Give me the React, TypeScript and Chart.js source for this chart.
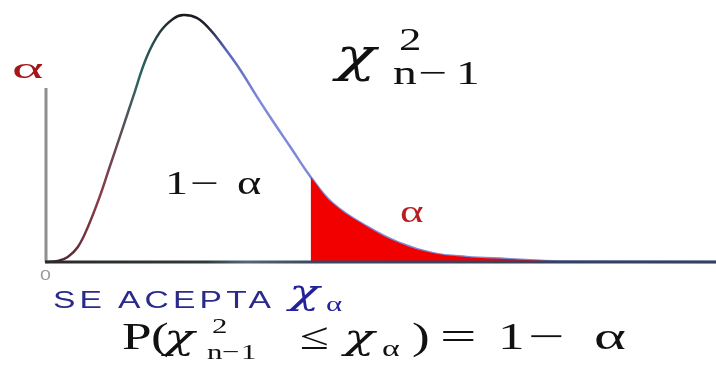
import React, { useEffect, useRef } from "react";
import { Chart, registerables } from "chart.js";

Chart.register(...registerables);

// chi-square values along the horizontal axis and the density
const chiValues = [0, 0.7, 1.3, 1.9, 2.5, 3.2, 3.8, 4.6, 5.2, 6.0, 6.8, 7.6, 8.2, 9.0, 9.8, 10.6, 11.6, 12.6, 13.6, 14.6, 15.8, 17.1, 19.2, 21.1, 23.1, 25.1, 27.5, 30.7, 40];
const densityValues = [0, 0.0004, 0.002, 0.0059, 0.0138, 0.0256, 0.0374, 0.0531, 0.065, 0.0805, 0.0905, 0.0958, 0.0972, 0.0961, 0.0915, 0.0848, 0.0756, 0.065, 0.0549, 0.0452, 0.0335, 0.0232, 0.0138, 0.0075, 0.0035, 0.002, 0.0012, 0.0002, 0];
const criticalValue = 15.8; // chi_alpha, start of the rejected tail
const xRange = [0, 40];
const yRange = [0, 0.1];
const yAxisTop = 0.0685;

const SERIF = '"Liberation Serif", "Times New Roman", serif';
const MATH = '"DejaVu Serif", serif';
const SANS = '"Liberation Sans", Arial, sans-serif';

type PieceProps = {
  x: number;
  base: number;
  size: number;
  text: string;
  family?: string;
  color?: string;
  sx?: number;
  italic?: boolean;
  ls?: number;
};

function Piece({ x, base, size, text, family = SERIF, color = "#111", sx = 1.4, italic = false, ls = 0 }: PieceProps) {
  const k = family === SANS ? 0.8465 : family === MATH ? 0.846 : 0.8375;
  return (
    <span
      style={{
        position: "absolute",
        left: x,
        top: base - k * size,
        fontSize: size,
        lineHeight: `${size}px`,
        fontFamily: family,
        color,
        whiteSpace: "pre",
        transform: `scaleX(${sx})`,
        transformOrigin: "0 0",
        fontStyle: italic ? "italic" : "normal",
        letterSpacing: ls,
      }}
    >
      {text}
    </span>
  );
}

const axesPlugin = {
  id: "axesLines",
  beforeDatasetsDraw(chart: any) {
    const { ctx, scales } = chart;
    const x0 = scales.x.getPixelForValue(0);
    ctx.save();
    ctx.lineWidth = 3;
    ctx.strokeStyle = "#8e8e8e";
    ctx.beginPath();
    ctx.moveTo(x0, scales.y.getPixelForValue(yAxisTop));
    ctx.lineTo(x0, scales.y.getPixelForValue(0));
    ctx.stroke();
    ctx.restore();
  },
  afterDatasetsDraw(chart: any) {
    const { ctx, scales } = chart;
    const y0 = scales.y.getPixelForValue(0);
    const xa = scales.x.getPixelForValue(xRange[0]) - 1;
    const xb = scales.x.getPixelForValue(xRange[1]);
    ctx.save();
    const g = ctx.createLinearGradient(xa, 0, xb, 0);
    g.addColorStop(0, "#2a2a2a");
    g.addColorStop(0.24, "#2e3a3c");
    g.addColorStop(0.3, "#56657a");
    g.addColorStop(0.4, "#3a4660");
    g.addColorStop(1, "#34405c");
    ctx.lineWidth = 3;
    ctx.strokeStyle = g;
    ctx.beginPath();
    ctx.moveTo(xa, y0);
    ctx.lineTo(xb, y0);
    ctx.stroke();
    ctx.restore();
  },
};

function curveGradient(context: any) {
  const chart = context.chart;
  const area = chart.chartArea;
  if (!area) return "#333";
  const g = chart.ctx.createLinearGradient(area.left, 0, area.right, 0);
  g.addColorStop(0, "#3a2424");
  g.addColorStop(0.08, "#8a3a48");
  g.addColorStop(0.14, "#2f6464");
  g.addColorStop(0.2, "#181818");
  g.addColorStop(0.24, "#202030");
  g.addColorStop(0.27, "#5a64b8");
  g.addColorStop(0.32, "#7d8ad8");
  g.addColorStop(1, "#7d8ad8");
  return g;
}

export default function App() {
  const canvasRef = useRef<HTMLCanvasElement | null>(null);

  useEffect(() => {
    if (!canvasRef.current) return;
    const curve = chiValues.map((x, i) => ({ x, y: densityValues[i] }));
    const tail = curve.filter((p) => p.x >= criticalValue && p.x <= 31);
    const chart = new Chart(canvasRef.current, {
      type: "line",
      data: {
        datasets: [
          {
            data: tail,
            borderWidth: 0,
            borderColor: "rgba(0,0,0,0)",
            backgroundColor: "#f20000",
            fill: "origin",
            pointRadius: 0,
            tension: 0.4,
          } as any,
          {
            data: curve,
            borderWidth: 2.5,
            borderColor: curveGradient,
            fill: false,
            pointRadius: 0,
            tension: 0.4,
            clip: false,
          } as any,
        ],
      },
      options: {
        responsive: false,
        animation: false,
        layout: { padding: { left: 46, right: 0, top: 8, bottom: 103 } },
        scales: {
          x: { type: "linear", min: xRange[0], max: xRange[1], display: false },
          y: { min: yRange[0], max: yRange[1], display: false },
        },
        plugins: { legend: { display: false }, tooltip: { enabled: false } },
      },
      plugins: [axesPlugin],
    });
    return () => chart.destroy();
  }, []);

  return (
    <div style={{ position: "fixed", left: 0, top: 0, width: 716, height: 365, background: "#fff", overflow: "hidden" }}>
      <canvas ref={canvasRef} width={716} height={365} style={{ position: "absolute", left: 0, top: 0 }} />
      {/* title */}
      <div>
        <Piece x={336} base={71} size={47} text="χ" family={MATH} italic />
        <Piece x={399} base={50} size={32} text="2" />
        <Piece x={393} base={84} size={34} text="n" />
        <Piece x={418} base={84} size={34} text="−" sx={1.5} />
        <Piece x={456} base={84} size={34} text="1" />
      </div>
      {/* axis labels */}
      <Piece x={12} base={78} size={30} text="α" color="#a51616" sx={2.0} />
      <Piece x={40} base={280} size={14} text="0" family={SANS} color="#9a9a9a" />
      {/* area labels */}
      <div>
        <Piece x={165} base={195} size={33} text="1" />
        <Piece x={190} base={195} size={33} text="−" sx={1.55} />
        <Piece x={237} base={195} size={33} text="α" />
      </div>
      <Piece x={400} base={222} size={32} text="α" color="#b81c1c" />
      {/* acceptance label */}
      <div>
        <Piece x={53} base={308} size={24} text="SE ACEPTA" family={SANS} color="#2a2a8a" ls={3} />
        <Piece x={289} base={304} size={36} text="χ" family={MATH} italic color="#22229a" />
        <Piece x={326} base={311} size={22} text="α" color="#22229a" />
      </div>
      {/* probability statement */}
      <div>
        <Piece x={122} base={349} size={38} text="P" />
        <Piece x={151} base={349} size={38} text="(" />
        <Piece x={164} base={349} size={36} text="χ" family={MATH} italic />
        <Piece x={212} base={333} size={22} text="2" />
        <Piece x={207} base={359} size={22} text="n" />
        <Piece x={222} base={359} size={22} text="−" />
        <Piece x={241} base={359} size={22} text="1" />
        <Piece x={300} base={349} size={38} text="≤" />
        <Piece x={344} base={349} size={36} text="χ" family={MATH} italic />
        <Piece x={382} base={356} size={24} text="α" />
        <Piece x={412} base={349} size={38} text=")" />
        <Piece x={440} base={349} size={38} text="=" sx={1.7} />
        <Piece x={498} base={349} size={38} text="1" />
        <Piece x={528} base={349} size={38} text="−" sx={1.7} />
        <Piece x={594} base={349} size={38} text="α" sx={1.6} />
      </div>
    </div>
  );
}
